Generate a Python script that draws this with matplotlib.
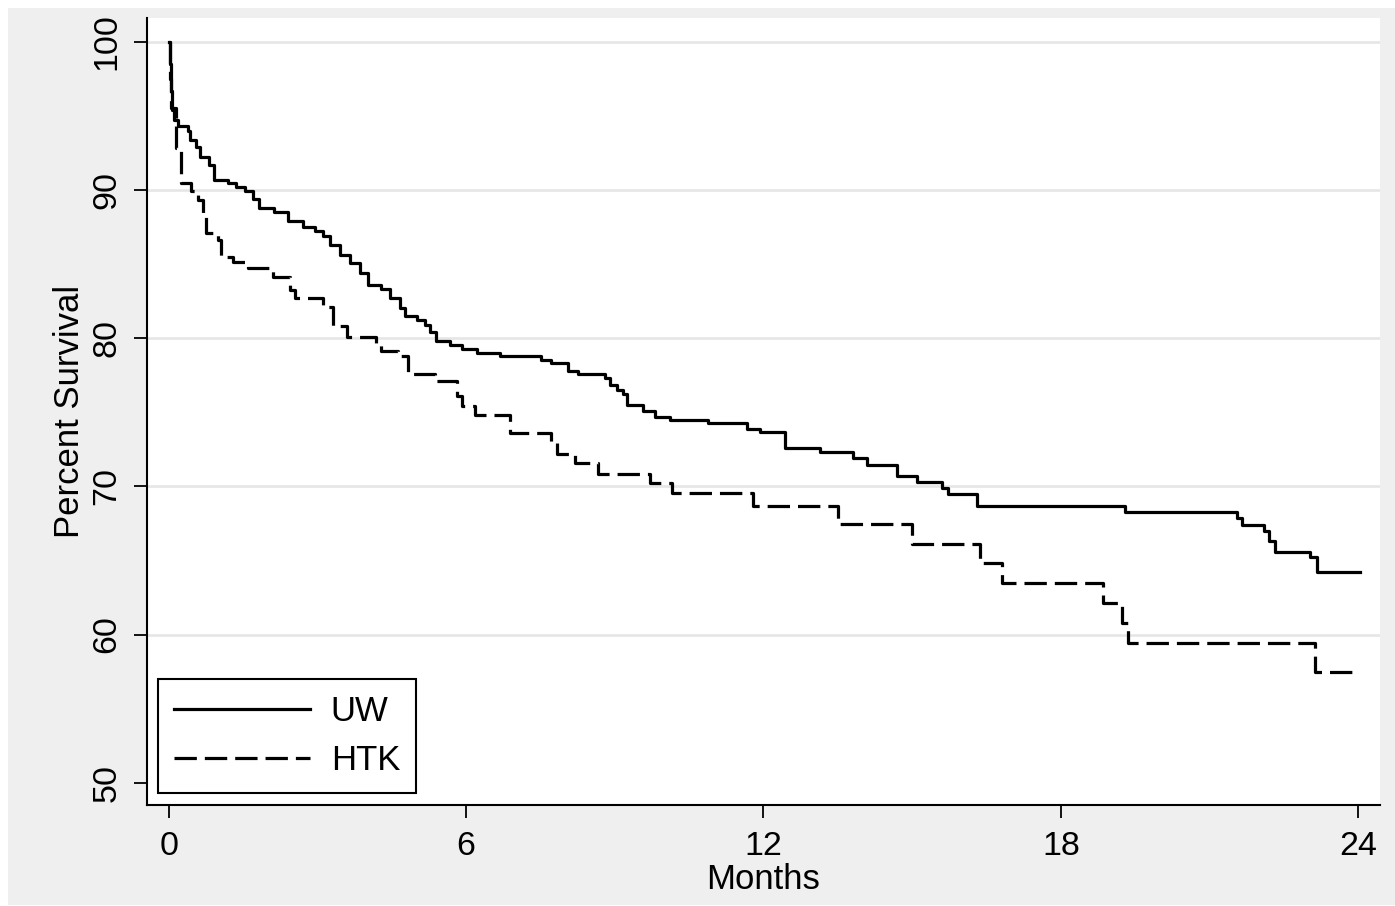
import numpy as np
import matplotlib
matplotlib.use('Agg')
import matplotlib.pyplot as plt
from matplotlib.patches import Rectangle

plt.rcParams['font.family'] = ['Liberation Sans', 'DejaVu Sans']

# Kaplan-Meier steps (months, percent surviving after the step)
uw_months = [0, 0.02, 0.04, 0.06, 0.10, 0.18, 0.38, 0.42, 0.55, 0.62, 0.82, 0.92,
             1.19, 1.36, 1.53, 1.70, 1.83, 2.13, 2.40, 2.70, 2.94, 3.12, 3.25,
             3.45, 3.65, 3.86, 4.02, 4.29, 4.46, 4.66, 4.76, 5.00, 5.17, 5.27,
             5.40, 5.67, 5.91, 6.21, 6.68, 7.52, 7.72, 8.06, 8.26, 8.80, 8.90,
             9.04, 9.17, 9.24, 9.57, 9.81, 10.11, 10.89, 11.66, 11.93, 12.43,
             13.14, 13.81, 14.08, 14.69, 15.09, 15.60, 15.73, 16.30, 19.30,
             21.55, 21.65, 22.09, 22.20, 22.33, 23.03, 23.17, 24.04]
uw_surv = [100, 98.5, 96.7, 95.4, 94.7, 94.3, 94.0, 93.4, 92.9, 92.2, 91.7, 90.7,
           90.45, 90.2, 89.9, 89.4, 88.8, 88.5, 87.9, 87.5, 87.25, 86.9, 86.3,
           85.6, 85.1, 84.4, 83.6, 83.3, 82.7, 82.0, 81.5, 81.2, 80.9, 80.4,
           79.8, 79.55, 79.3, 79.0, 78.8, 78.5, 78.3, 77.75, 77.6, 77.3, 76.85,
           76.5, 76.2, 75.5, 75.1, 74.7, 74.45, 74.27, 73.9, 73.7, 72.6,
           72.3, 71.9, 71.45, 70.7, 70.3, 69.9, 69.5, 68.65, 68.24,
           67.86, 67.4, 66.96, 66.3, 65.6, 65.2, 64.2, 64.2]

htk_months = [0, 0.02, 0.05, 0.15, 0.25, 0.45, 0.59, 0.69, 0.75, 0.99, 1.06,
              1.29, 1.59, 2.10, 2.44, 2.54, 3.12, 3.32, 3.59, 4.19, 4.29, 4.63,
              4.83, 5.37, 5.81, 5.91, 6.18, 6.88, 7.72, 7.83, 8.20, 8.67, 9.71,
              10.15, 11.79, 13.51, 14.99, 16.37, 16.81, 18.86, 19.23, 19.36,
              23.13, 23.94]
htk_surv = [100, 97.5, 95.5, 92.8, 90.45, 89.9, 89.3, 88.4, 87.1, 86.6, 85.5,
            85.15, 84.7, 84.15, 83.25, 82.7, 82.1, 80.8, 80.1, 79.7, 79.1, 78.8,
            77.6, 77.1, 76.1, 75.4, 74.8, 73.6, 72.9, 72.2, 71.6, 70.8, 70.2,
            69.55, 68.7, 67.45, 66.1, 64.85, 63.5, 62.1, 60.8, 59.4,
            57.5, 57.5]

x_ticks = [0, 6, 12, 18, 24]
y_ticks = [50, 60, 70, 80, 90, 100]
grid_levels = [60, 70, 80, 90, 100]

fig = plt.figure(figsize=(13.95, 9.06), dpi=100)
fig.patch.set_facecolor('white')
fig.patches.append(Rectangle((8 / 1395, 1 / 906), 1 - 8 / 1395, 897 / 906,
                             transform=fig.transFigure, facecolor='#efefef',
                             edgecolor='none', zorder=-10))

ax = fig.add_axes([147 / 1395, 101 / 906, 1233 / 1395, 787 / 906])
ax.set_facecolor('white')

for g in grid_levels:
    ax.axhline(g, color='#e6e6e6', lw=1.9, zorder=0)

ax.plot(uw_months, uw_surv, drawstyle='steps-post', color='black', lw=2.3,
        label='UW')
ax.plot(htk_months, htk_surv, drawstyle='steps-post', color='black', lw=2.3,
        linestyle=(0, (7.0, 2.5)), label='HTK')

ax.set_xlim(-0.44, 24.44)
ax.set_ylim(48.5, 101.6)
ax.set_xticks(x_ticks)
ax.set_yticks(y_ticks)

for s in ['top', 'right']:
    ax.spines[s].set_visible(False)
for s in ['left', 'bottom']:
    ax.spines[s].set_linewidth(1.5)

ax.tick_params(axis='both', length=9.5, width=1.3, labelsize=24.5, direction='out')
ax.tick_params(axis='x', pad=9)
ax.tick_params(axis='y', pad=8)
for lab in ax.get_yticklabels():
    lab.set_rotation(90)
    lab.set_va('center')

ax.set_xlabel('Months', fontsize=25, labelpad=1)
ax.set_ylabel('Percent Survival', fontsize=25, labelpad=4)

leg = ax.legend(loc='lower left', bbox_to_anchor=(0.009, 0.015),
                borderaxespad=0, fontsize=25, fancybox=False, framealpha=1,
                edgecolor='black', handlelength=3.9, handletextpad=0.6,
                labelspacing=0.45, borderpad=0.47)
leg.get_frame().set_linewidth(1.5)

fig.savefig('out.png', dpi=100)
